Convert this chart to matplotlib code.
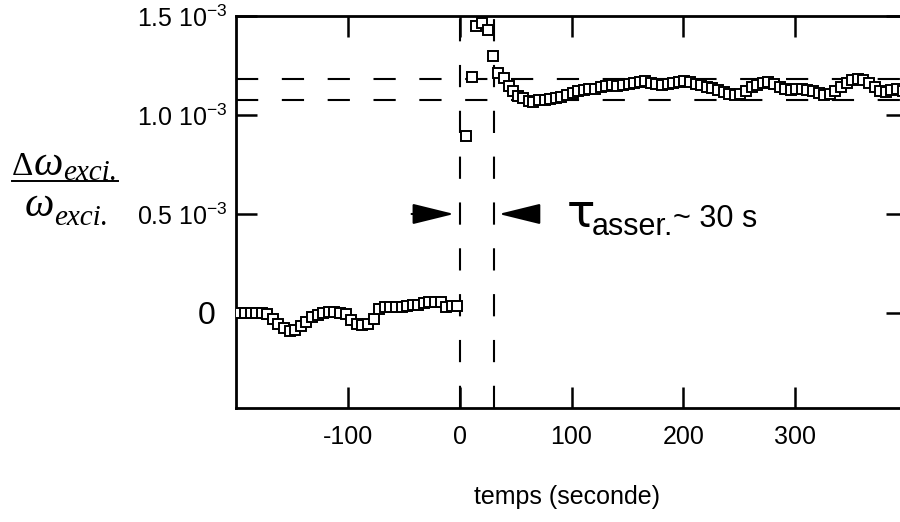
import numpy as np
import matplotlib.pyplot as plt
from matplotlib.lines import Line2D

# relative frequency shift, in units of 1e-3
t_before = np.arange(-197, 0, 5)
v_before = [0.0, 0.0, 0.0, 0.0, 0.0, -0.005, -0.03, -0.055, -0.078, -0.092,
            -0.088, -0.065, -0.045, -0.022, -0.008, 0.0, 0.003, 0.006, 0.0, -0.005,
            -0.035, -0.058, -0.062, -0.055, -0.03, 0.02, 0.032, 0.032, 0.032, 0.032,
            0.035, 0.04, 0.04, 0.05, 0.057, 0.057, 0.055, 0.03, 0.035, 0.035]

t_jump = [6, 11, 15, 20, 25, 30, 34, 40, 44, 48, 52, 57, 62, 66]
v_jump = [0.894, 1.193, 1.449, 1.463, 1.43, 1.298, 1.214, 1.187, 1.146, 1.12,
          1.096, 1.086, 1.072, 1.067]

t_after = np.arange(71, 400, 5)
v_after = [1.075, 1.078, 1.082, 1.085, 1.09, 1.10, 1.11, 1.12, 1.125, 1.13,
           1.13, 1.14, 1.145, 1.15, 1.145, 1.15, 1.155, 1.16, 1.165, 1.17,
           1.16, 1.155, 1.15, 1.155, 1.16, 1.165, 1.17, 1.165, 1.155, 1.15,
           1.14, 1.135, 1.125, 1.115, 1.105, 1.10, 1.105, 1.12, 1.14, 1.15,
           1.16, 1.165, 1.155, 1.14, 1.13, 1.125, 1.13, 1.13, 1.125, 1.12,
           1.11, 1.10, 1.105, 1.12, 1.14, 1.16, 1.175, 1.18, 1.175, 1.16,
           1.14, 1.12, 1.115, 1.125, 1.13, 1.12]

band = [1.075, 1.18]          # dashed horizontal band (1e-3)
t_marks = [0, 31]             # dashed vertical lines (s)
y_ticks = [0, 0.5e-3, 1.0e-3, 1.5e-3]
y_labels = ['0', r'0.5 10$^{\mathregular{-3}}$', r'1.0 10$^{\mathregular{-3}}$',
            r'1.5 10$^{\mathregular{-3}}$']
x_ticks = [-100, 0, 100, 200, 300]

plt.rcParams['font.family'] = ['Liberation Sans', 'DejaVu Sans']
plt.rcParams['lines.scale_dashes'] = False

W, H = 900, 522
fig = plt.figure(figsize=(W / 100, H / 100), dpi=100)
ax = fig.add_axes([236 / W, 114 / H, 671 / W, 392 / H])
renderer = fig.canvas.get_renderer()


def px(x, y):
    # pixel position (from top-left) to figure fraction
    return x / W, 1 - y / H


def chain(x, y, pieces):
    # write text pieces one after another starting at pixel (x, y)
    for txt, size, style, dy in pieces:
        t = fig.text(*px(x, y + dy), txt, family='Liberation Serif', style=style,
                     fontsize=size, va='baseline')
        x = t.get_window_extent(renderer).x1


dash = (0, (16, 17))
for tm in t_marks:
    ax.axvline(tm, color='k', lw=1.5, ls=dash, zorder=1)
for b in band:
    ax.axhline(b * 1e-3, color='k', lw=1.5, ls=dash, zorder=1)

mk = dict(ls='none', marker='s', ms=6.5, mfc='white', mec='black', mew=1.4, zorder=3)
ax.plot(t_before, np.array(v_before) * 1e-3, **mk)
ax.plot(t_jump, np.array(v_jump) * 1e-3, **mk)
ax.plot(t_after, np.array(v_after) * 1e-3, **mk)

# arrows marking the settling time
arrow = dict(arrowstyle='-|>,head_length=1.3,head_width=0.32', color='k', lw=1.5,
             mutation_scale=20, shrinkA=0, shrinkB=0)
ax.annotate('', xy=(-5, 0.5e-3), xytext=(-43, 0.5e-3), arrowprops=arrow)
ax.annotate('', xy=(35, 0.5e-3), xytext=(69, 0.5e-3), arrowprops=arrow)

ax.text(96, 0.434e-3, 'τ', fontsize=34, family='DejaVu Sans', va='baseline')
ax.text(118, 0.394e-3, 'asser.', fontsize=22, va='baseline')
ax.text(191, 0.434e-3, '~ 30 s', fontsize=22, va='baseline')

ax.set_xlim(-200, 400)
ax.set_ylim(-0.48e-3, 1.5e-3)
ax.set_xticks(x_ticks)
ax.set_xticklabels([str(v) for v in x_ticks], fontsize=18)
ax.set_yticks(y_ticks)
ax.set_yticklabels(y_labels, fontsize=18)
ax.get_yticklabels()[0].set_fontsize(23)

for s in ax.spines.values():
    s.set_linewidth(2.0)
ax.tick_params(direction='in', length=15, width=1.8, top=True, right=True)
ax.tick_params(axis='x', pad=12)
ax.tick_params(axis='y', pad=6)
ax.yaxis.get_major_ticks()[0].set_pad(15)

# y label written as a fraction
chain(12, 175, [('Δ', 24, 'normal', 0), ('ω', 30, 'italic', 0), ('exci.', 21, 'italic', 5)])
fig.add_artist(Line2D([12 / W, 118 / W], [1 - 181 / H] * 2, color='k', lw=1.4))
chain(25, 216, [('ω', 30, 'italic', 0), ('exci.', 21, 'italic', 9)])

fig.text(*px(567, 497), 'temps (seconde)', fontsize=18, ha='center', va='center')

fig.savefig('out.png', dpi=100)
